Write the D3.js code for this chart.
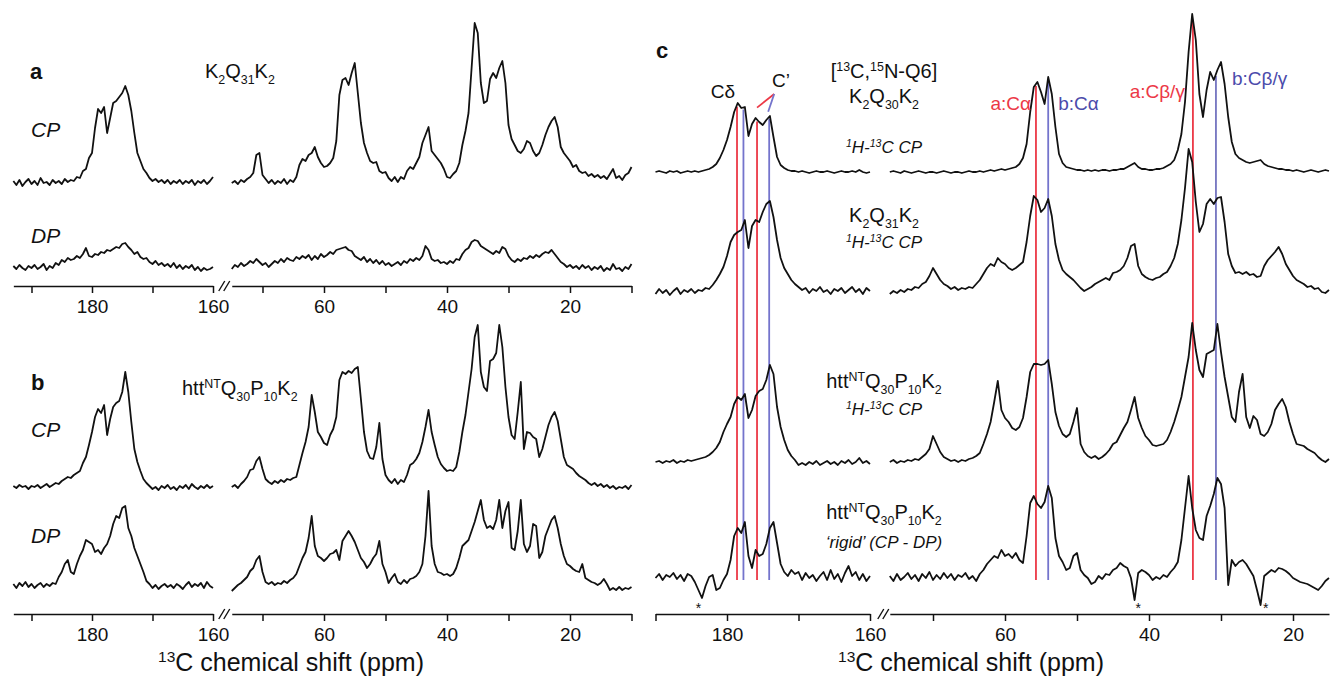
<!DOCTYPE html>
<html>
<head>
<meta charset="utf-8">
<script src="https://cdn.jsdelivr.net/npm/d3@7"></script>
<style>
  body { margin: 0; background: #fff; }
  svg text { font-family: "Liberation Sans", Arial, Helvetica, sans-serif; }
</style>
</head>
<body>
<svg id="fig" width="1330" height="679"></svg>
<script>
// spectra are sampled every 0.5 ppm, starting at the left end of each segment
const ppmStep = 0.5
const abLeftStart = 193, abRightStart = 75
const cLeftStart = 190, cRightStart = 76

// ---- panel a : K2Q31K2 ----
const aCPLeft = [2,-2,3,-3,1,4,-1,2,-2,5, 0,1,-2,3,0,2,-1,4,1,3, 2,6,5,12,14,25,30,55,74,70,
  76,50,65,80,82,86,90,97,88,72, 50,30,22,14,10,5,2,4,1,3, 0,3,-1,2,0,3,-1,2,0,3, -2,2,0,3,-1,2,6]
const aCPRight = [0,2,-1,3,1,4,6,10,28,30, 8,4,0,3,-1,2,0,4,-1,3, 1,6,18,24,22,28,30,36,26,20,
  16,17,20,25,42,88,103,105,98,110, 120,90,60,40,30,22,20,21,12,10, 11,5,2,6,1,6,4,12,16,14,
  20,26,40,48,56,32,28,24,20,14, 6,5,9,12,20,38,52,70,115,160, 150,100,80,82,104,110,105,115,122,100,
  58,44,38,32,30,34,42,40,32,27, 30,38,48,56,62,66,56,36,30,26, 22,16,18,12,10,11,7,9,6,8,
  5,7,4,9,14,5,7,3,8,10, 16]
const aDPLeft = [2,-1,3,0,-2,2,0,3,-1,1, 4,-2,2,0,5,3,8,6,10,8, 9,12,10,14,20,12,11,14,13,16,
  15,18,17,19,21,20,24,25,21,18, 14,16,11,9,10,6,4,7,3,5, 2,4,1,5,0,3,-1,2,0,3, -2,1,-3,0,-2,-1,1]
const aDPRight = [-1,3,1,5,2,4,7,5,9,6, 3,5,1,4,7,5,9,6,10,8, 7,11,9,12,10,13,8,12,9,14,
  11,13,16,14,18,19,20,21,18,17, 12,10,8,11,6,9,5,8,4,7, 3,5,2,4,6,3,7,5,9,7,
  10,8,12,22,18,9,7,8,5,6, 4,7,5,9,8,14,18,20,26,28, 27,22,20,18,16,14,17,15,21,19,
  12,8,6,9,7,10,9,12,10,13, 11,14,16,15,18,14,10,6,4,1, 3,0,2,-1,3,0,2,-2,1,-1,
  2,-3,0,-2,4,-1,0,-3,1,-1, 4]

// ---- panel b : httNT Q30 P10 K2 ----
const bCPLeft = [1,-1,2,0,1,-2,1,0,2,-1, 1,3,0,2,4,3,6,8,10,9, 12,14,16,24,30,42,55,70,78,74,
  82,52,68,80,84,86,95,115,95,65, 38,25,16,8,4,1,-2,0,-3,1, -1,2,-2,0,-3,1,-1,2,-2,3, 0,-2,1,-1,2,-1,1]
const bCPRight = [0,2,-1,3,6,10,17,18,26,30, 18,8,5,3,6,4,7,5,8,7, 9,10,22,34,45,60,92,75,55,50,
  44,42,52,58,70,107,115,113,116,114, 118,120,88,55,36,29,28,40,64,28, 12,7,4,8,3,7,5,12,22,24,
  28,34,45,60,77,55,42,30,23,19, 16,17,16,20,35,55,72,95,118,150, 162,115,100,96,126,128,134,162,140,100,
  70,52,48,75,105,38,55,54,50,48, 30,38,50,62,70,75,66,48,30,22, 20,18,14,11,9,7,4,2,4,1,
  3,0,2,-1,1,-2,0,-1,1,-2, 2]
const bDPLeft = [2,-2,3,0,4,-1,2,-2,1,3, -1,2,0,3,2,9,14,22,26,14, 12,22,30,36,46,44,42,34,36,32,
  38,42,50,62,70,68,78,80,58,50, 38,30,22,14,5,2,-2,1,-3,0, 2,-1,1,-2,2,0,-3,1,4,-1, 2,0,3,-2,4,0,-2]
const bDPRight = [-5,-2,1,3,6,9,15,18,26,30, 14,4,2,4,1,3,2,5,3,6, 8,12,20,28,34,48,70,40,30,28,
  25,28,32,33,36,26,45,50,55,50, 44,36,28,24,18,22,28,32,45,22, 14,3,8,12,4,2,6,3,7,8,
  10,14,22,50,95,40,22,14,13,11, 12,10,12,18,28,40,43,46,55,64, 75,86,66,58,60,57,66,86,58,75,
  84,38,36,55,86,42,34,40,62,60, 28,34,50,58,66,70,58,42,30,22, 20,17,15,14,22,8,6,4,3,1,
  3,7,2,-4,-2,-4,-1,-4,-2,-3, -1]

// ---- panel c ----
const cQ6Left = [0,1,0,-1,1,0,1,-1,0,1, 0,1,0,1,2,3,5,8,14,22, 32,45,60,69,64,65,36,48,54,50,
  47,52,56,35,15,7,4,2,1,1, 0,1,0,-1,0,1,0,0,1,0, -1,0,1,0,0,1,0,2,0,-1, 0]
const cQ6Right = [0,1,0,-1,1,0,-1,0,1,0, -1,0,0,-1,0,1,0,-1,0,0, -1,0,1,0,0,1,0,1,2,1,
  2,3,2,3,4,5,8,14,28,60, 85,90,80,68,95,78,45,18,9,5, 4,3,2,2,1,2,1,2,1,2,
  2,1,2,2,3,3,5,7,9,5, 3,3,2,2,3,3,4,6,8,12, 22,38,70,120,158,132,78,55,82,100,
  92,102,110,88,55,30,18,14,12,10, 9,10,11,12,8,6,5,4,3,3, 2,2,1,2,1,0,1,2,1,0, 1,2,1]
const cQ31Left = [-2,3,-1,2,-3,1,4,-2,2,0, 3,-1,2,1,4,3,7,12,18,25, 36,50,57,60,62,72,44,66,72,70,
  80,88,91,75,52,34,24,18,12,8, 5,2,4,-1,3,1,5,0,2,-2, 3,1,4,-1,2,5,0,3,-2,4, 1]
const cQ31Right = [-2,1,-1,2,0,3,2,5,4,8, 10,16,24,18,12,8,6,3,5,2, 4,3,5,4,8,12,18,24,28,26,
  34,30,28,24,22,24,27,30,50,76, 96,92,80,84,93,76,48,32,22,18, 15,12,8,4,1,3,5,8,10,12,
  14,12,19,20,22,26,34,46,48,26, 18,15,13,12,14,15,18,20,26,34, 48,72,104,143,130,90,60,68,88,93,
  88,94,95,70,38,26,19,20,18,20, 17,18,15,16,26,32,36,40,45,38, 28,22,16,12,10,8,5,6,3,4, 0,-1,2]
const cHttLeft = [0,1,-1,1,0,2,-1,1,0,2, 1,2,3,4,5,7,10,14,20,30, 38,45,58,65,62,68,44,52,66,71,
  73,82,97,88,55,35,22,12,6,2, -3,-1,-3,0,-2,1,-3,-1,1,-2, 0,-3,1,-1,2,-2,0,4,-1,1, -2]
const cHttRight = [0,2,-1,1,0,2,1,3,2,5, 8,13,26,18,10,5,3,1,2,0, 2,1,3,4,6,9,18,28,40,60,
  81,52,44,40,34,32,35,44,65,90, 98,98,97,98,102,78,50,36,28,25, 28,40,54,18,10,6,4,6,3,5,
  8,12,18,20,27,34,40,52,65,44, 34,26,22,17,16,17,18,22,30,40, 52,65,85,105,139,112,92,85,108,110,
  112,138,110,85,65,45,40,70,88,45, 34,46,42,28,26,30,38,52,58,63, 55,40,28,18,17,16,13,11,9,5, 2,0,3]
const cRigidLeft = [0,4,-2,3,1,5,-1,3,-3,4, 2,-4,-12,-20,-8,1,3,-12,-10,-2, 4,18,42,50,45,56,22,10,28,22,
  24,34,50,56,35,14,6,2,8,4, 6,-2,5,0,3,-3,2,6,-2,8, -1,4,-4,5,12,2,6,-2,4,-3, 2]
const cRigidRight = [2,-3,4,-2,1,5,-1,3,-3,4, 0,6,-2,3,-1,5,0,4,-2,3, 1,5,-1,2,-3,4,8,14,18,22,
  20,28,22,24,20,25,18,15,42,75, 82,74,70,76,92,80,40,22,16,8, 10,22,25,8,3,0,-6,-4,2,-1,
  4,3,8,10,15,12,10,0,-22,5, 8,6,3,-2,1,-1,3,1,6,10, 16,38,70,102,70,48,40,38,62,72,
  84,100,94,70,-7,18,12,16,18,14, 8,2,-12,-27,2,5,8,6,10,9, 7,4,0,-2,-4,-5,-6,-8,-10,-12, -8,-3,0]

// assignments (ppm) for the two conformers, and artefact markers
const siteAPpm = [178.6, 175.8, 55.7, 33.9]
const siteBPpm = [177.7, 174.1, 54.0, 30.7]
const artefactPpm = [184.0, 41.5, 23.8]

// axis ticks
const abLeftTicks = [190, 180, 170, 160]
const abRightTicks = [70, 60, 50, 40, 30, 20, 10]
const cLeftTicks = [190, 180, 170, 160]
const cRightTicks = [70, 60, 50, 40, 30, 20]
const tickLabels = [180, 160, 60, 40, 20]

const svg = d3.select('#fig')
const ink = '#111'
const red = '#ec3846'
const blue = '#7474cc'

function samples(values, start) {
  return values.map((v, i) => [start - i * ppmStep, v])
}

function valueAt(values, start, ppm) {
  const i = (start - ppm) / ppmStep
  const i0 = Math.floor(i), f = i - i0
  return values[i0] * (1 - f) + values[Math.min(i0 + 1, values.length - 1)] * f
}

function richText(g, x, y, parts, size, opts = {}) {
  const t = g.append('text')
    .attr('x', x).attr('y', y)
    .attr('font-size', size)
    .attr('text-anchor', opts.anchor || 'start')
    .attr('font-style', opts.italic ? 'italic' : null)
    .attr('font-weight', opts.bold ? 'bold' : null)
    .attr('fill', opts.color || ink)
  let cur = 0
  parts.forEach(p => {
    const txt = typeof p === 'string' ? p : p[0]
    const kind = typeof p === 'string' ? null : p[1]
    const off = kind === 'sub' ? size * 0.3 : kind === 'sup' ? -size * 0.36 : 0
    const s = t.append('tspan').text(txt).attr('dy', off - cur)
    if (kind) s.attr('font-size', size * 0.62)
    cur = off
  })
  return t
}

function drawTrace(g, xs, values, start, base) {
  const y = d3.scaleLinear().domain([0, 100]).range([base, base - 100])
  const line = d3.line().x(d => xs(d[0])).y(d => y(d[1]))
  g.append('path')
    .attr('d', line(samples(values, start)))
    .attr('fill', 'none')
    .attr('stroke', ink)
    .attr('stroke-width', 1.8)
    .attr('stroke-linejoin', 'round')
}

function drawAxis(g, xs, ticks, y) {
  g.append('g')
    .attr('transform', 'translate(0,' + y + ')')
    .attr('color', ink)
    .call(d3.axisBottom(xs).tickValues(ticks).tickSize(7).tickSizeOuter(0).tickPadding(7)
      .tickFormat(d => tickLabels.includes(d) ? d : ''))
    .call(a => {
      a.attr('font-family', null).attr('font-size', 19)
      a.select('.domain').attr('stroke-width', 1.5)
      a.selectAll('.tick line').attr('stroke-width', 1.5)
    })
}

function drawBreak(g, x, y) {
  [0, 5].forEach(dx => {
    g.append('line')
      .attr('x1', x + dx - 3).attr('y1', y + 5)
      .attr('x2', x + dx + 3).attr('y2', y - 5)
      .attr('stroke', ink).attr('stroke-width', 1.4)
  })
}

// ---------------- panels a and b ----------------
const abXL = d3.scaleLinear().domain([193, 160]).range([92 - 13 * 6.05, 92 + 20 * 6.05])
const abXR = d3.scaleLinear().domain([75, 10]).range([324 - 15 * 6.15, 324 + 50 * 6.15])

const gA = svg.append('g')
richText(gA, 30, 79, ['a'], 22, { bold: true })
richText(gA, 205, 78, ['K', ['2', 'sub'], 'Q', ['31', 'sub'], 'K', ['2', 'sub']], 20)
richText(gA, 31, 137, ['CP'], 21, { italic: true })
richText(gA, 31, 243, ['DP'], 21, { italic: true })
drawTrace(gA, abXL, aCPLeft, abLeftStart, 183)
drawTrace(gA, abXR, aCPRight, abRightStart, 183)
drawTrace(gA, abXL, aDPLeft, abLeftStart, 268)
drawTrace(gA, abXR, aDPRight, abRightStart, 268)
drawAxis(gA, abXL, abLeftTicks, 286)
drawAxis(gA, abXR, abRightTicks, 286)
drawBreak(gA, abXR(abRightStart) - 10, 286)

const gB = svg.append('g')
richText(gB, 31, 390, ['b'], 22, { bold: true })
richText(gB, 182, 395, ['htt', ['NT', 'sup'], 'Q', ['30', 'sub'], 'P', ['10', 'sub'], 'K', ['2', 'sub']], 20)
richText(gB, 31, 437, ['CP'], 21, { italic: true })
richText(gB, 31, 543, ['DP'], 21, { italic: true })
drawTrace(gB, abXL, bCPLeft, abLeftStart, 487)
drawTrace(gB, abXR, bCPRight, abRightStart, 487)
drawTrace(gB, abXL, bDPLeft, abLeftStart, 586)
drawTrace(gB, abXR, bDPRight, abRightStart, 586)
drawAxis(gB, abXL, abLeftTicks, 614)
drawAxis(gB, abXR, abRightTicks, 614)
drawBreak(gB, abXR(abRightStart) - 10, 614)
richText(gB, 291, 671, [['13', 'sup'], 'C chemical shift (ppm)'], 25, { anchor: 'middle' })

// ---------------- panel c ----------------
const cXL = d3.scaleLinear().domain([190, 160]).range([727 - 10 * 7.15, 727 + 20 * 7.15])
const cXR = d3.scaleLinear().domain([76, 15]).range([933 - 6 * 7.2, 933 + 55 * 7.2])
const cBase = { q6: 172, q31: 292, htt: 462, rigid: 578 }
const cx = p => p > 100 ? cXL(p) : cXR(p)
const q6Y = p => cBase.q6 - (p > 100 ? valueAt(cQ6Left, cLeftStart, p) : valueAt(cQ6Right, cRightStart, p))

const gC = svg.append('g')

// assignment lines behind the spectra
siteAPpm.forEach(p => {
  gC.append('line').attr('x1', cx(p)).attr('x2', cx(p))
    .attr('y1', q6Y(p) + 2).attr('y2', cBase.rigid + 2)
    .attr('stroke', red).attr('stroke-width', 1.8)
})
siteBPpm.forEach(p => {
  gC.append('line').attr('x1', cx(p)).attr('x2', cx(p))
    .attr('y1', q6Y(p) + 2).attr('y2', cBase.rigid + 2)
    .attr('stroke', p < 32 ? '#2e2ea0' : blue).attr('stroke-width', p < 32 ? 1.2 : 1.8)
})

drawTrace(gC, cXL, cQ6Left, cLeftStart, cBase.q6)
drawTrace(gC, cXR, cQ6Right, cRightStart, cBase.q6)
drawTrace(gC, cXL, cQ31Left, cLeftStart, cBase.q31)
drawTrace(gC, cXR, cQ31Right, cRightStart, cBase.q31)
drawTrace(gC, cXL, cHttLeft, cLeftStart, cBase.htt)
drawTrace(gC, cXR, cHttRight, cRightStart, cBase.htt)
drawTrace(gC, cXL, cRigidLeft, cLeftStart, cBase.rigid)
drawTrace(gC, cXR, cRigidRight, cRightStart, cBase.rigid)
drawAxis(gC, cXL, cLeftTicks, 614)
drawAxis(gC, cXR, cRightTicks, 614)
drawBreak(gC, cXR(cRightStart) - 9, 614)

artefactPpm.forEach(p => {
  gC.append('text').attr('x', cx(p)).attr('y', cBase.rigid + 35)
    .attr('text-anchor', 'middle').attr('font-size', 14).attr('fill', ink).text('*')
})

// C-delta / C' labels with connector strokes
richText(gC, cx(siteAPpm[0]) - 2, 98, ['C\u03b4'], 19, { anchor: 'end' })
richText(gC, cx(173.7), 87, ['C\u2019'], 19)
const cpJoin = [cx(173.4), 94]
gC.append('line').attr('x1', cx(siteAPpm[1])).attr('y1', q6Y(siteAPpm[1]) - 12)
  .attr('x2', cpJoin[0]).attr('y2', cpJoin[1]).attr('stroke', red).attr('stroke-width', 1.8)
gC.append('line').attr('x1', cx(siteBPpm[1]) - 1).attr('y1', q6Y(siteBPpm[1]) - 5)
  .attr('x2', cpJoin[0]).attr('y2', cpJoin[1]).attr('stroke', blue).attr('stroke-width', 1.8)

richText(gC, cx(siteAPpm[2]) - 5, 110, ['a:C\u03b1'], 19, { anchor: 'end', color: red })
richText(gC, cx(siteBPpm[2]) + 10, 110, ['b:C\u03b1'], 19, { color: '#4b4bab' })
richText(gC, cx(siteAPpm[3]) - 8, 98, ['a:C\u03b2/\u03b3'], 19, { anchor: 'end', color: red })
richText(gC, cx(siteBPpm[3]) + 16, 85, ['b:C\u03b2/\u03b3'], 19, { color: '#4b4bab' })

const cMid = 884
richText(gC, 656, 58, ['c'], 22, { bold: true })
richText(gC, cMid, 78, ['[', ['13', 'sup'], 'C,', ['15', 'sup'], 'N-Q6]'], 20, { anchor: 'middle' })
richText(gC, cMid, 103, ['K', ['2', 'sub'], 'Q', ['30', 'sub'], 'K', ['2', 'sub']], 20, { anchor: 'middle' })
richText(gC, cMid, 153, [['1', 'sup'], 'H-', ['13', 'sup'], 'C CP'], 17, { anchor: 'middle', italic: true })
richText(gC, cMid, 222, ['K', ['2', 'sub'], 'Q', ['31', 'sub'], 'K', ['2', 'sub']], 20, { anchor: 'middle' })
richText(gC, cMid, 248, [['1', 'sup'], 'H-', ['13', 'sup'], 'C CP'], 17, { anchor: 'middle', italic: true })
richText(gC, cMid, 388, ['htt', ['NT', 'sup'], 'Q', ['30', 'sub'], 'P', ['10', 'sub'], 'K', ['2', 'sub']], 20, { anchor: 'middle' })
richText(gC, cMid, 415, [['1', 'sup'], 'H-', ['13', 'sup'], 'C CP'], 17, { anchor: 'middle', italic: true })
richText(gC, cMid, 519, ['htt', ['NT', 'sup'], 'Q', ['30', 'sub'], 'P', ['10', 'sub'], 'K', ['2', 'sub']], 20, { anchor: 'middle' })
richText(gC, cMid, 548, ['\u2018rigid\u2019 (CP - DP)'], 17, { anchor: 'middle', italic: true })
richText(gC, 971, 671, [['13', 'sup'], 'C chemical shift (ppm)'], 25, { anchor: 'middle' })
</script>
</body>
</html>
